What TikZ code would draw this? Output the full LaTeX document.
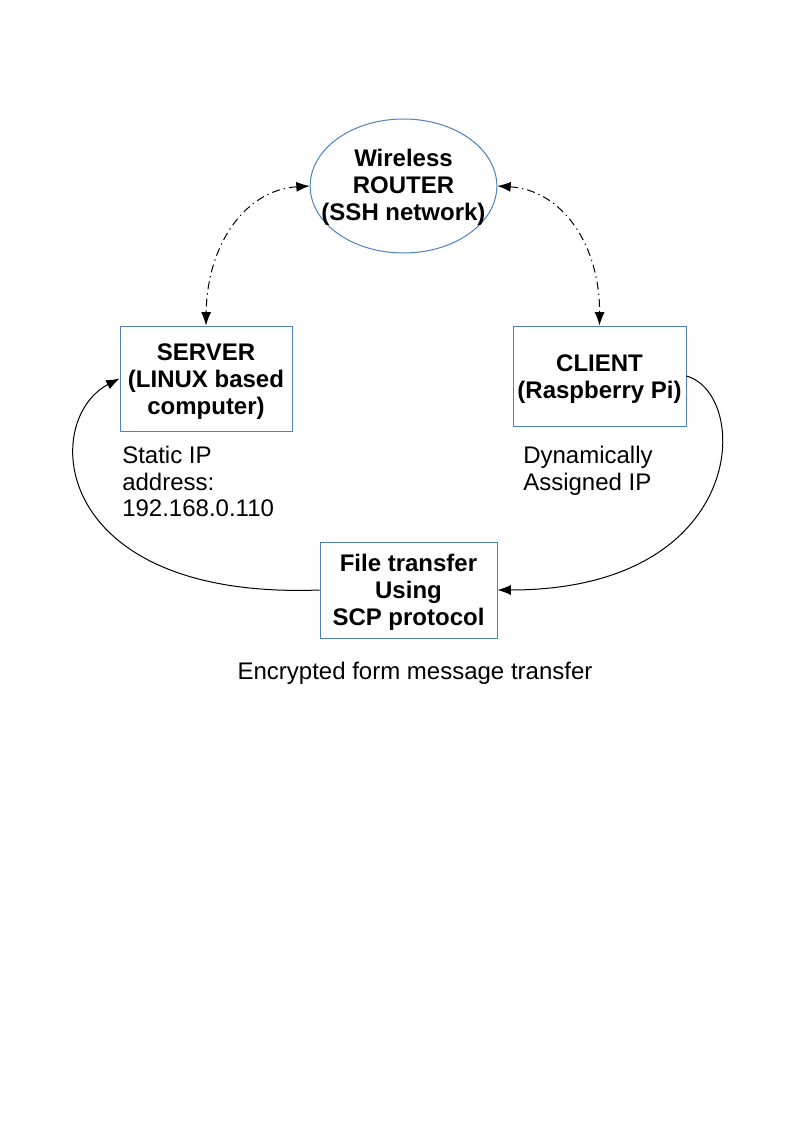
\documentclass[tikz,border=0pt]{standalone}
\usepackage{fontspec}
\setmainfont{Liberation Sans}
\usetikzlibrary{arrows.meta,shapes.geometric}
\definecolor{boxblue}{RGB}{79,129,189}
\begin{document}
\begin{tikzpicture}[x=0.75pt,y=-0.75pt,
  every node/.style={font=\fontsize{18}{20}\selectfont},
  boldtext/.style={inner sep=0pt,align=center,yshift=-2pt,font=\fontsize{18}{20.25}\selectfont\bfseries},
  blockbox/.style={draw=boxblue,line width=0.75pt,rectangle,inner sep=0pt},
  routerell/.style={draw=boxblue,line width=0.75pt,ellipse,inner sep=0pt},
  plain/.style={inner sep=0pt,align=left},
  dashdot/.style={line width=0.75pt,dash pattern=on 6pt off 3pt on 1pt off 3pt},
  solidcon/.style={line width=0.75pt}]
\useasboundingbox (0,0) rectangle (794,1123);
\fill[white] (0,0) rectangle (794,1123);
\node[routerell,minimum width=140pt,minimum height=100.5pt,
  label={[boldtext,yshift=1pt]center:Wireless\\ROUTER\\(SSH network)}] (router) at (403.5,186) {};
\node[blockbox,minimum width=129pt,minimum height=78.75pt,
  label={[boldtext]center:SERVER\\(LINUX based\\computer)}] (server) at (206,378.5) {};
\node[blockbox,minimum width=129.75pt,minimum height=75pt,
  label={[boldtext]center:CLIENT\\(Raspberry Pi)}] (client) at (599.5,376) {};
\node[blockbox,minimum width=132.75pt,minimum height=72pt,
  label={[boldtext]center:File transfer\\Using\\SCP protocol}] (file) at (408.5,590) {};
\node[plain,anchor=west] (staticip) at (122,481.5) {Static IP\\address:\\192.168.0.110};
\node[plain,anchor=west] (dynip) at (523,470.5) {Dynamically\\Assigned IP};
\node[inner sep=0pt] (caption) at (415,673) {Encrypted form message transfer};
\draw[dashdot,{Latex[length=10pt,width=7.5pt]}-{Latex[length=10pt,width=7.5pt]}] (router.west) .. controls (245,190) and (207,245) .. (server.north);
\draw[dashdot,{Latex[length=10pt,width=7.5pt]}-{Latex[length=10pt,width=7.5pt]}] (router.east) .. controls (562,190) and (600,245) .. (client.north);
\draw[solidcon,-{Latex[length=10pt,width=7.5pt]}] (client.east) .. controls (752,395) and (748,590) .. (file.east);
\draw[solidcon,-{Latex[length=10pt,width=7.5pt]}] (file.west) .. controls (50,600) and (40,420) .. (server.west);
\end{tikzpicture}
\end{document}
